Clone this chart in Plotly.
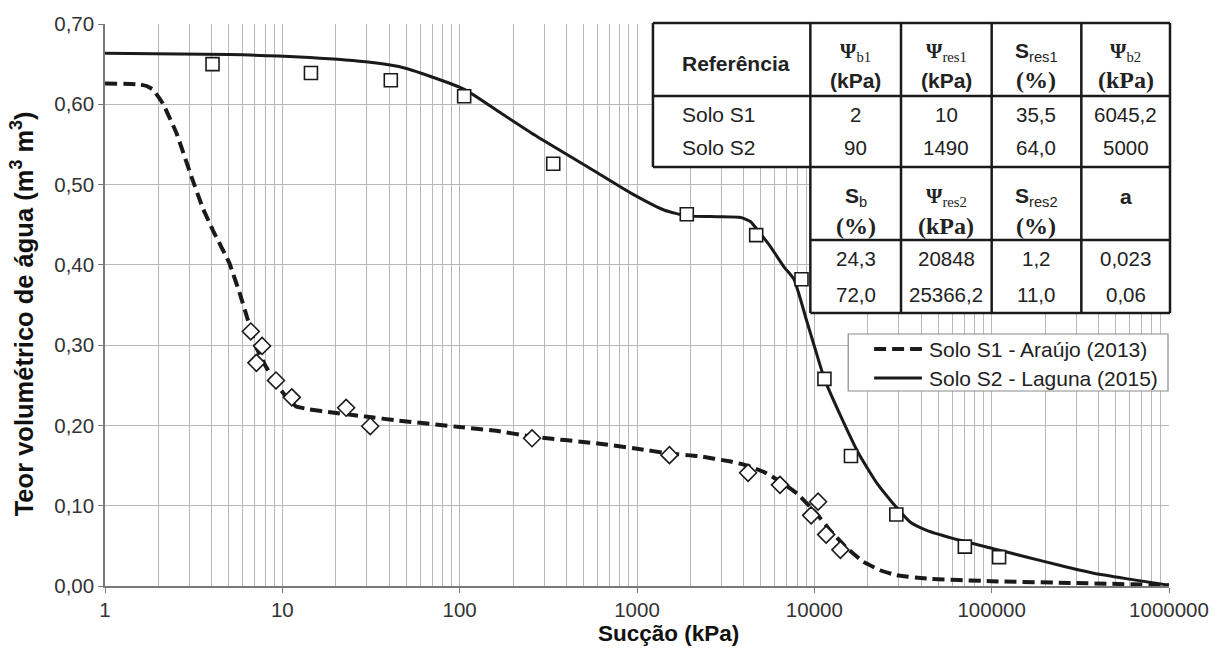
import plotly.graph_objects as go

# ---------------- data ----------------
# Solo S1 - Araújo (2013): fitted curve (dashed) and measured points (diamonds)
s1_curve_x = [1, 1.5, 1.71, 1.87, 2.12, 2.53, 3.07, 3.57, 4.06, 5.03, 5.8, 6.4, 7.11,
              8.09, 9.21, 10.5, 11.9, 14.2, 19.2, 29.5, 45.4, 100, 165, 255, 603, 1000,
              1524, 2197, 3378, 4190, 5197, 6452, 8004, 9933, 12310, 15270, 18950,
              23500, 29170, 43000, 100000, 300000, 1000000]
s1_curve_y = [0.626, 0.625, 0.623, 0.618, 0.601, 0.564, 0.510, 0.470, 0.443, 0.402, 0.362,
              0.331, 0.298, 0.273, 0.252, 0.236, 0.224, 0.220, 0.216, 0.211, 0.206, 0.198,
              0.193, 0.186, 0.1775, 0.171, 0.165, 0.162, 0.155, 0.150, 0.142, 0.130, 0.115,
              0.094, 0.069, 0.047, 0.030, 0.0196, 0.0133, 0.0092, 0.0059, 0.0037, 0.001]
s1_pts_x = [6.64, 7.69, 7.14, 9.21, 11.3, 22.9, 31.3, 256, 1524, 4230, 6400, 10500, 9590,
            11650, 14020]
s1_pts_y = [0.317, 0.299, 0.278, 0.256, 0.235, 0.222, 0.199, 0.184, 0.163, 0.141, 0.126,
            0.105, 0.088, 0.064, 0.045]

# Solo S2 - Laguna (2015): fitted curve (solid) and measured points (squares)
s2_curve_x = [1, 5, 12.5, 29.5, 45.4, 69.9, 107.7, 165.6, 255, 392, 604, 929, 1431, 1909,
              2851, 3846, 4375, 4876, 5667, 6738, 7674, 9036, 10150, 11400, 14130, 17780,
              22530, 27350, 34670, 43000, 66070, 101900, 156700, 241000, 371200, 571000,
              1000000]
s2_curve_y = [0.6635, 0.662, 0.659, 0.653, 0.647, 0.634, 0.618, 0.591, 0.564, 0.539, 0.514,
              0.489, 0.468, 0.461, 0.460, 0.459, 0.4537, 0.441, 0.4225, 0.3976, 0.382,
              0.331, 0.294, 0.258, 0.211, 0.165, 0.128, 0.1047, 0.0798, 0.0694, 0.057,
              0.0466, 0.0362, 0.0258, 0.0162, 0.0092, 0.001]
s2_pts_x = [4.04, 14.5, 40.9, 106, 337, 1909, 4700, 8465, 11400, 16090, 29000, 70600, 110100]
s2_pts_y = [0.650, 0.639, 0.630, 0.610, 0.526, 0.463, 0.437, 0.382, 0.258, 0.162, 0.089,
            0.049, 0.036]

series_names = ["Solo S1 - Araújo (2013)", "Solo S2 - Laguna (2015)"]

# Inset table (parameters)
soils = ["Solo S1", "Solo S2"]
psi_b1 = ["2", "90"]
psi_res1 = ["10", "1490"]
s_res1 = ["35,5", "64,0"]
psi_b2 = ["6045,2", "5000"]
s_b = ["24,3", "72,0"]
psi_res2 = ["20848", "25366,2"]
s_res2 = ["1,2", "11,0"]
a_param = ["0,023", "0,06"]

# ---------------- layout geometry (pixels) ----------------
W, H = 1221, 648
ML, MR, MT, MB = 105, 48, 24, 62
PW = W - ML - MR
PH = H - MT - MB


def pxx(x):
    return (x - ML) / PW


def pxy(y):
    return (H - MB - y) / PH


INK = "#1a1a1a"
GRID = "#b8b8b8"
AX = "#7a7a7a"
SANS = "Liberation Sans, Arial, sans-serif"
SERIF = "Liberation Serif, Times New Roman, serif"

fig = go.Figure()

fig.add_trace(go.Scatter(x=s1_curve_x, y=s1_curve_y, mode="lines", name=series_names[0],
                         line=dict(color=INK, width=4, dash="12px,6px", shape="spline",
                                   smoothing=0.3),
                         showlegend=False))
fig.add_trace(go.Scatter(x=s2_curve_x, y=s2_curve_y, mode="lines", name=series_names[1],
                         line=dict(color=INK, width=3, shape="spline", smoothing=0.5),
                         showlegend=False))
fig.add_trace(go.Scatter(x=s1_pts_x, y=s1_pts_y, mode="markers", name=series_names[0],
                         marker=dict(symbol="diamond", size=13, color="white",
                                     line=dict(color=INK, width=1.6)),
                         showlegend=False))
fig.add_trace(go.Scatter(x=s2_pts_x, y=s2_pts_y, mode="markers", name=series_names[1],
                         marker=dict(symbol="square", size=13, color="white",
                                     line=dict(color=INK, width=1.6)),
                         showlegend=False))

axis_common = dict(showgrid=True, gridcolor=GRID, gridwidth=1, showline=True,
                   linecolor=AX, linewidth=1.5, ticks="outside", ticklen=5,
                   tickcolor=AX, tickwidth=1.2,
                   tickfont=dict(family=SANS, size=20.5, color="#333333"),
                   zeroline=False, mirror=False)

fig.update_xaxes(type="log", range=[0, 6], dtick=1, tickformat="d",
                 minor=dict(showgrid=True, gridcolor=GRID, gridwidth=1, dtick="D1",
                            ticks=""),
                 **axis_common)
fig.update_yaxes(range=[0, 0.70], dtick=0.1, tickformat=".2f", **axis_common)

shapes = []
annotations = []


def rect(x0, y0, x1, y1, fill, lc, lw):
    shapes.append(dict(type="rect", xref="paper", yref="paper",
                       x0=pxx(x0), x1=pxx(x1), y0=pxy(y1), y1=pxy(y0),
                       fillcolor=fill, line=dict(color=lc, width=lw), layer="above"))


def seg(x0, y0, x1, y1, lc=INK, lw=2.5, dash="solid"):
    shapes.append(dict(type="line", xref="paper", yref="paper",
                       x0=pxx(x0), x1=pxx(x1), y0=pxy(y0), y1=pxy(y1),
                       line=dict(color=lc, width=lw, dash=dash), layer="above"))


def txt(x, y, s, size=20, family=SANS, anchor="center", color="#222222", angle=0,
        yanchor="middle"):
    annotations.append(dict(x=pxx(x), y=pxy(y), xref="paper", yref="paper", text=s,
                            showarrow=False, xanchor=anchor, yanchor=yanchor,
                            textangle=angle,
                            font=dict(size=size, family=family, color=color)))


# ---------------- inset table ----------------
TX0, TX1 = 655, 1174
cols = [813, 904, 995, 1085]
rows = [23, 96, 167, 240, 313]
rect(TX0, rows[0], TX1, rows[2], "white", "rgba(0,0,0,0)", 0)
rect(cols[0], rows[2], TX1, rows[4], "white", "rgba(0,0,0,0)", 0)
seg(TX0, rows[0], TX1, rows[0])
seg(TX0, rows[1], TX1, rows[1])
seg(TX0, rows[2], TX1, rows[2])
seg(cols[0], rows[3], TX1, rows[3])
seg(cols[0], rows[4], TX1, rows[4])
seg(TX0, rows[0], TX0, rows[2])
for cx in cols:
    seg(cx, rows[0], cx, rows[4])
seg(TX1, rows[0], TX1, rows[4])

ccx = [(cols[0] + cols[1]) / 2, (cols[1] + cols[2]) / 2, (cols[2] + cols[3]) / 2,
       (cols[3] + TX1) / 2]

txt(682, 64, "<b>Referência</b>", size=21, anchor="left")
txt(682, 114, soils[0], size=21, anchor="left")
txt(682, 148, soils[1], size=21, anchor="left")

hdr1 = [("<b>Ψ</b><sub>b1</sub>", SERIF), ("<b>Ψ</b><sub>res1</sub>", SERIF),
        ("<b>S</b><sub>res1</sub>", SANS), ("<b>Ψ</b><sub>b2</sub>", SERIF)]
unit1 = [("<b>(kPa)</b>", SANS, 21), ("<b>(kPa)</b>", SANS, 21),
         ("<b>(%)</b>", SERIF, 24), ("<b>(kPa)</b>", SERIF, 24)]
hdr2 = [("<b>S</b><sub>b</sub>", SANS), ("<b>Ψ</b><sub>res2</sub>", SERIF),
        ("<b>S</b><sub>res2</sub>", SANS), ("<b>a</b>", SANS)]
unit2 = [("<b>(%)</b>", SERIF, 24), ("<b>(kPa)</b>", SERIF, 24),
         ("<b>(%)</b>", SERIF, 24), ("", SERIF, 24)]

for i in range(4):
    txt(ccx[i], 52, hdr1[i][0], size=21, family=hdr1[i][1])
    txt(ccx[i], 80, unit1[i][0], size=unit1[i][2], family=unit1[i][1])
    txt(ccx[i], 197, hdr2[i][0], size=21, family=hdr2[i][1])
    if unit2[i][0]:
        txt(ccx[i], 226, unit2[i][0], size=unit2[i][2], family=unit2[i][1])

upper_vals = [psi_b1, psi_res1, s_res1, psi_b2]
lower_vals = [s_b, psi_res2, s_res2, a_param]
for i in range(4):
    for j in range(2):
        txt(ccx[i], [114, 148][j], upper_vals[i][j], size=20.5)
        txt(ccx[i], [258, 295][j], lower_vals[i][j], size=20.5)

# ---------------- legend ----------------
rect(851, 334, 1172, 391, "white", "#8a8a8a", 1.2)
seg(877, 349, 925, 349, lw=4, dash="12px,6px")
seg(877, 378, 925, 378, lw=3)
txt(930, 349, series_names[0], size=21, anchor="left")
txt(930, 378, series_names[1], size=21, anchor="left")

# ---------------- axis titles ----------------
txt(671, 648, "<b>Sucção (kPa)</b>", size=22.5, color="#111111", yanchor="bottom")
txt(22, 314, "<b>Teor volumétrico de água (m<sup>3</sup> m<sup>3</sup>)</b>", size=25.5,
    color="#111111", angle=-90)

fig.update_layout(width=W, height=H,
                  margin=dict(l=ML, r=MR, t=MT, b=MB, pad=0),
                  paper_bgcolor="white", plot_bgcolor="white",
                  separators=",.", showlegend=False,
                  font=dict(family=SANS, color="#222222"),
                  shapes=shapes, annotations=annotations)

fig.write_html("out.html")
